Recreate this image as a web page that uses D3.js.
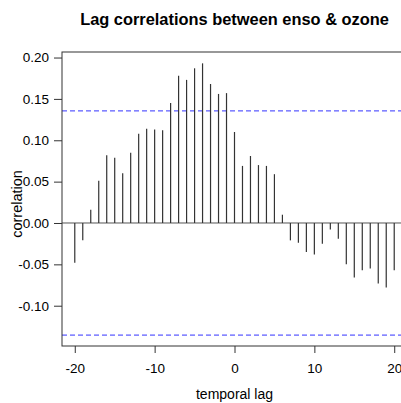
<!DOCTYPE html>
<html>
<head>
<meta charset="utf-8">
<script src="https://cdn.jsdelivr.net/npm/d3@7"></script>
<style>
	body { margin: 0; background: #fff; }
	svg text { font-family: "Liberation Sans", Arial, sans-serif; fill: #000; }
</style>
</head>
<body>
<div id="chart"></div>
<script>
// lag correlations
var lags = d3.range(-20, 21);
var correlations = [
	-0.048, -0.021, 0.016, 0.051, 0.082, 0.079, 0.060, 0.085, 0.108, 0.114,
	0.113, 0.112, 0.145, 0.178, 0.173, 0.187, 0.193, 0.168, 0.156, 0.157,
	0.110,
	0.069, 0.081, 0.070, 0.069, 0.059, 0.010, -0.021, -0.024, -0.035, -0.038,
	-0.025, -0.008, -0.019, -0.050, -0.066, -0.057, -0.055, -0.073, -0.078, -0.057
];
var confLimit = 0.1355;
var xTicks = [-20, -10, 0, 10, 20];
var yTicks = [-0.10, -0.05, 0.00, 0.05, 0.10, 0.15, 0.20];

var data = lags.map((d, i) => ({ lag: d, r: correlations[i] }));

var width = 401, height = 403;
var margin = { top: 52, right: -6, bottom: 57, left: 62 };

var svg = d3
	.select("#chart")
	.append("svg")
	.attr("width", width)
	.attr("height", height);

var x = d3.scaleLinear()
	.domain([-21.6, 21.6])
	.range([margin.left, width - margin.right]);
var y = d3.scaleLinear()
	.domain([-0.1487, 0.2067])
	.range([height - margin.bottom, margin.top]);

// R prints a plain hyphen for negatives
var hyphen = (fmt) => (d) => fmt(d).replace("\u2212", "-");

// zero line
svg.append("line")
	.attr("x1", margin.left).attr("x2", width)
	.attr("y1", y(0)).attr("y2", y(0))
	.attr("stroke", "#555").attr("stroke-width", 1);

// confidence limits
[confLimit, -confLimit].forEach((c) => {
	svg.append("line")
		.attr("x1", margin.left).attr("x2", width)
		.attr("y1", y(c)).attr("y2", y(c))
		.attr("stroke", "#3333ff")
		.attr("stroke-width", 1)
		.attr("stroke-dasharray", "5,3");
});

// bars
svg.selectAll(".bar")
	.data(data)
	.enter()
	.append("line")
	.attr("class", "bar")
	.attr("x1", (d) => x(d.lag))
	.attr("x2", (d) => x(d.lag))
	.attr("y1", y(0))
	.attr("y2", (d) => y(d.r))
	.attr("stroke", "#333")
	.attr("stroke-width", 1.2);

// box
svg.append("rect")
	.attr("x", margin.left)
	.attr("y", margin.top)
	.attr("width", width - margin.right - margin.left)
	.attr("height", height - margin.bottom - margin.top)
	.attr("fill", "none")
	.attr("stroke", "#333")
	.attr("stroke-width", 1);

// axes
var xAxis = svg.append("g")
	.attr("transform", "translate(0," + (height - margin.bottom) + ")")
	.call(d3.axisBottom(x).tickValues(xTicks).tickSize(7).tickPadding(10).tickFormat(hyphen(d3.format("d"))));
var yAxis = svg.append("g")
	.attr("transform", "translate(" + margin.left + ",0)")
	.call(d3.axisLeft(y).tickValues(yTicks).tickSize(8).tickPadding(5).tickFormat(hyphen(d3.format(".2f"))));

[xAxis, yAxis].forEach((g) => {
	g.select(".domain").remove();
	g.selectAll("line").attr("stroke", "#333");
	g.selectAll("text").attr("font-size", 13.5).style("font-family", "'Liberation Sans', Arial, sans-serif");
});

// labels
svg.append("text")
	.attr("x", (margin.left + width - margin.right) / 2)
	.attr("y", 25)
	.attr("text-anchor", "middle")
	.attr("font-size", 16.4)
	.attr("font-weight", "bold")
	.text("Lag correlations between enso & ozone");

svg.append("text")
	.attr("x", (margin.left + width - margin.right) / 2)
	.attr("y", 399)
	.attr("text-anchor", "middle")
	.attr("font-size", 14)
	.text("temporal lag");

svg.append("text")
	.attr("transform", "translate(22,204) rotate(-90)")
	.attr("text-anchor", "middle")
	.attr("font-size", 14.5)
	.text("correlation");
</script>
</body>
</html>
